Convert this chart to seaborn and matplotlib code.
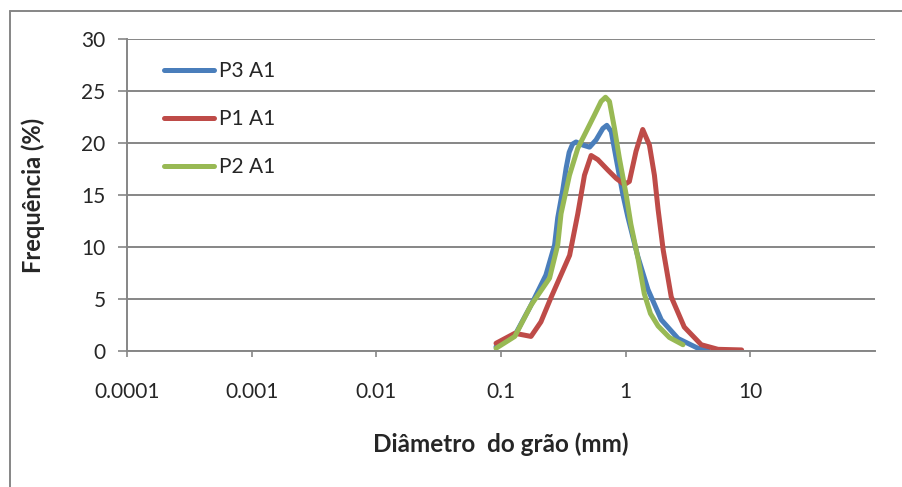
import matplotlib.pyplot as plt
import matplotlib.lines as mlines
import pandas as pd
import seaborn as sns

# diametro (mm) e frequencia (%)
p3_diam = [0.0912, 0.129, 0.174, 0.229, 0.269, 0.285, 0.313, 0.333, 0.352, 0.375,
           0.40, 0.453, 0.513, 0.579, 0.656, 0.706, 0.766, 0.839, 0.951, 1.04,
           1.25, 1.51, 1.93, 2.63, 3.80, 4.57]
p3_freq = [0.4, 1.5, 4.4, 7.3, 10.2, 12.8, 15.5, 17.6, 19.1, 19.9,
           20.1, 19.8, 19.6, 20.3, 21.4, 21.7, 21.1, 18.5, 15.0, 12.9,
           9.1, 5.9, 3.0, 1.2, 0.26, 0.1]

p1_diam = [0.0912, 0.129, 0.174, 0.209, 0.251, 0.355, 0.413, 0.467, 0.528, 0.598,
           0.719, 0.839, 0.977, 1.07, 1.21, 1.37, 1.55, 1.70, 1.82, 2.0,
           2.32, 2.95, 4.04, 5.50, 8.51]
p1_freq = [0.74, 1.7, 1.4, 2.8, 5.1, 9.2, 13.2, 16.9, 18.8, 18.4,
           17.4, 16.6, 16.0, 16.3, 19.2, 21.3, 19.8, 16.9, 13.6, 9.7,
           5.2, 2.3, 0.6, 0.16, 0.1]

p2_diam = [0.0912, 0.129, 0.174, 0.245, 0.285, 0.303, 0.354, 0.413, 0.482, 0.562,
           0.635, 0.689, 0.741, 0.813, 0.891, 1.01, 1.10, 1.26, 1.41, 1.58,
           1.82, 2.24, 2.88]
p2_freq = [0.26, 1.4, 4.4, 7.0, 10.2, 13.2, 16.9, 19.5, 21.1, 22.7,
           24.0, 24.4, 24.0, 21.4, 18.5, 15.0, 12.2, 8.8, 5.5, 3.6,
           2.4, 1.3, 0.6]

series_names = ["P3 A1", "P1 A1", "P2 A1"]
x_ticks = [0.0001, 0.001, 0.01, 0.1, 1, 10]
x_tick_labels = ["0.0001", "0.001", "0.01", "0.1", "1", "10"]
y_ticks = [0, 5, 10, 15, 20, 25, 30]

df = pd.concat([
    pd.DataFrame({"diam": p3_diam, "freq": p3_freq, "serie": series_names[0]}),
    pd.DataFrame({"diam": p1_diam, "freq": p1_freq, "serie": series_names[1]}),
    pd.DataFrame({"diam": p2_diam, "freq": p2_freq, "serie": series_names[2]}),
])

sns.set_theme(style="white")
plt.rcParams['font.family'] = ['Lato', 'DejaVu Sans']

grid_col = "#868686"
fig, ax = plt.subplots(figsize=(9.02, 4.87), dpi=100)
fig.subplots_adjust(left=0.1408, right=0.9701, top=0.9199, bottom=0.2793)

sns.lineplot(data=df, x="diam", y="freq", hue="serie", hue_order=series_names,
             palette=["#4A7EBB", "#BE4B48", "#98B954"], sort=False, estimator=None,
             linewidth=3.6, ax=ax, solid_capstyle="round", solid_joinstyle="round")

ax.set_xscale("log")
ax.set_xlim(1e-4, 100)
ax.set_ylim(0, 30)
ax.set_xticks(x_ticks)
ax.set_xticklabels(x_tick_labels)
ax.minorticks_off()
ax.set_yticks(y_ticks)

ax.yaxis.grid(True, color=grid_col, linewidth=1.4)
ax.set_axisbelow(True)
for side in ["top", "right"]:
    ax.spines[side].set_visible(False)
for side in ["left", "bottom"]:
    ax.spines[side].set_color(grid_col)
    ax.spines[side].set_linewidth(1.4)

ax.tick_params(axis="x", direction="out", length=4.5, width=1.2, color=grid_col,
               pad=18, labelsize=15, bottom=True)
ax.tick_params(axis="y", direction="out", length=6.5, width=1.2, color=grid_col,
               pad=9, labelsize=15, left=True)

ax.set_xlabel("Diâmetro  do grão (mm)", fontsize=17.5, fontweight="bold", labelpad=22)
ax.set_ylabel("Frequência (%)", fontsize=17, fontweight="bold", labelpad=26)

ax.legend(loc="upper left", bbox_to_anchor=(0.05, 0.928), frameon=False, fontsize=15,
          handlelength=2.4, handletextpad=0.2, labelspacing=1.34, borderpad=0,
          borderaxespad=0, title=None)

# borda externa do grafico
fig.add_artist(mlines.Line2D([10 / 902, 10 / 902], [0, 1 - 11 / 487],
                             color=grid_col, linewidth=1.4))
fig.add_artist(mlines.Line2D([10 / 902, 1], [1 - 11 / 487, 1 - 11 / 487],
                             color=grid_col, linewidth=1.4))

plt.savefig("out.png", facecolor="white")
plt.close()
